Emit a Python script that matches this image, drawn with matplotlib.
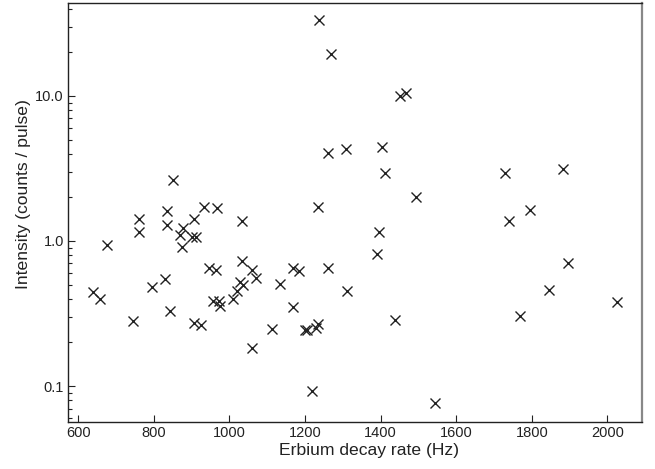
import numpy as np
import matplotlib.pyplot as plt
from matplotlib.ticker import FixedLocator, FixedFormatter, LogLocator, NullFormatter

plt.rcParams['font.family'] = ['Liberation Sans', 'DejaVu Sans']

# Erbium decay rate (Hz) and intensity (counts / pulse)
decay_rate = [640, 658, 676, 746, 762, 760, 795, 830, 835, 836,
              843, 852, 868, 874, 878, 900, 911, 905, 905, 926,
              933, 946, 957, 964, 968, 972, 976, 1010, 1020, 1029,
              1037, 1034, 1033, 1059, 1070, 1061, 1113, 1135, 1167, 1167,
              1185, 1200, 1206, 1219, 1228, 1233, 1233, 1238, 1262, 1260,
              1269, 1308, 1310, 1390, 1395, 1403, 1411, 1439, 1452, 1466,
              1493, 1543, 1729, 1740, 1768, 1794, 1846, 1883, 1895, 2024]
intensity = [0.444, 0.399, 0.94, 0.282, 1.42, 1.15, 0.485, 0.545, 1.29, 1.61,
             0.331, 2.65, 1.10, 0.916, 1.224, 1.057, 1.057, 1.41, 0.271, 0.263,
             1.72, 0.65, 0.386, 0.633, 1.68, 0.386, 0.357, 0.399, 0.453, 0.52,
             0.498, 0.722, 1.37, 0.633, 0.554, 0.182, 0.248, 0.506, 0.65, 0.353,
             0.625, 0.244, 0.244, 0.0928, 0.25, 0.268, 1.71, 33.2, 0.65, 4.05,
             19.3, 4.31, 0.453, 0.812, 1.152, 4.45, 2.93, 0.286, 9.95, 10.5,
             2.0, 0.0767, 2.93, 1.364, 0.304, 1.64, 0.458, 3.14, 0.707, 0.382]

x_ticks = [600, 800, 1000, 1200, 1400, 1600, 1800, 2000]
y_ticks = [0.1, 1.0, 10.0]
y_tick_labels = ['0.1', '1.0', '10.0']

fig = plt.figure(figsize=(6.55, 4.69), dpi=100)
ax = fig.add_axes([0.1038, 0.1002, 0.8762, 0.8934])

ax.plot(decay_rate, intensity, linestyle='none', marker='x',
        markersize=7, markeredgewidth=1.0, color='#222222')

ax.set_yscale('log')
ax.set_xlim(573, 2091)
ax.set_ylim(0.0565, 43.7)

ax.xaxis.set_major_locator(FixedLocator(x_ticks))
ax.yaxis.set_major_locator(FixedLocator(y_ticks))
ax.yaxis.set_major_formatter(FixedFormatter(y_tick_labels))
ax.yaxis.set_minor_locator(LogLocator(base=10, subs=np.arange(2, 10)))
ax.yaxis.set_minor_formatter(NullFormatter())

ax.tick_params(which='both', direction='in', top=False, right=False,
               labelsize=10.5, colors='#222222')
ax.tick_params(which='major', length=5, width=0.8, pad=3)
ax.tick_params(which='minor', length=3, width=0.8)

for side in ['top', 'left', 'bottom']:
    ax.spines[side].set_color('#222222')
    ax.spines[side].set_linewidth(1.0)
ax.spines['right'].set_color('#888888')
ax.spines['right'].set_linewidth(1.6)

ax.set_xlabel('Erbium decay rate (Hz)', fontsize=12.6, color='#222222',
              labelpad=2, x=0.524)
ax.set_ylabel('Intensity (counts / pulse)', fontsize=12.6, color='#222222',
              labelpad=3, y=0.544)

fig.savefig('out.png', dpi=100)
